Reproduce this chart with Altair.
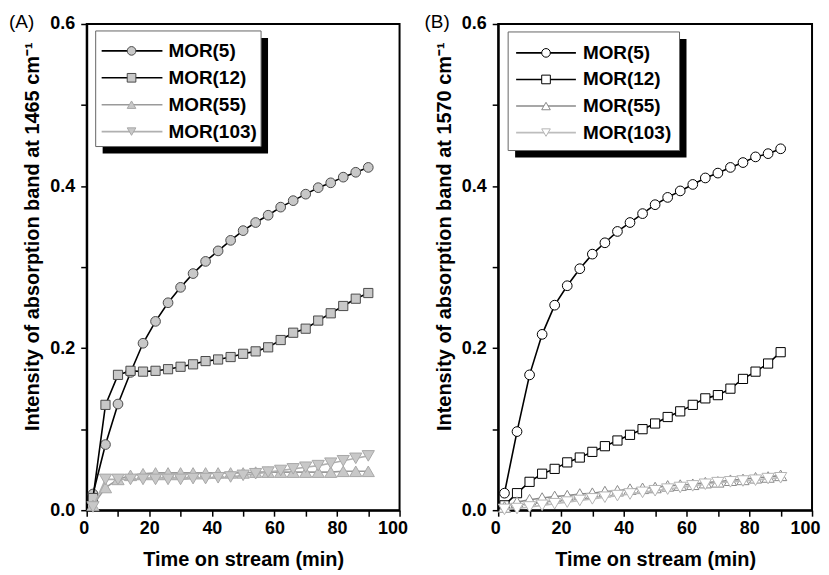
import altair as alt
import pandas as pd

time = [2, 6, 10, 14, 18, 22, 26, 30, 34, 38, 42, 46, 50, 54, 58, 62, 66, 70, 74, 78, 82, 86, 90]
series = ["MOR(5)", "MOR(12)", "MOR(55)", "MOR(103)"]
shapes = ["circle", "square", "triangle-up", "triangle-down"]

a_mor5 = [0.020, 0.081, 0.131, 0.170, 0.206, 0.233, 0.256, 0.275, 0.292, 0.307, 0.320, 0.333,
          0.345, 0.355, 0.364, 0.374, 0.382, 0.390, 0.398, 0.404, 0.411, 0.417, 0.423]
a_mor12 = [0.015, 0.130, 0.167, 0.172, 0.171, 0.172, 0.174, 0.177, 0.180, 0.184, 0.186, 0.189,
           0.193, 0.196, 0.201, 0.210, 0.219, 0.224, 0.234, 0.243, 0.252, 0.261, 0.268]
a_mor55 = [0.006, 0.028, 0.038, 0.043, 0.045, 0.046, 0.046, 0.046, 0.046, 0.046, 0.046, 0.046,
           0.046, 0.047, 0.047, 0.047, 0.047, 0.047, 0.047, 0.047, 0.048, 0.048, 0.048]
a_mor103 = [0.004, 0.038, 0.038, 0.038, 0.038, 0.038, 0.038, 0.038, 0.039, 0.039, 0.040, 0.041,
            0.043, 0.045, 0.047, 0.049, 0.051, 0.053, 0.055, 0.058, 0.061, 0.064, 0.067]

b_mor5 = [0.021, 0.097, 0.167, 0.217, 0.253, 0.277, 0.298, 0.316, 0.330, 0.344, 0.355, 0.366,
          0.377, 0.386, 0.394, 0.402, 0.410, 0.416, 0.423, 0.429, 0.436, 0.440, 0.446]
b_mor12 = [0.006, 0.021, 0.035, 0.045, 0.051, 0.059, 0.065, 0.072, 0.079, 0.086, 0.093, 0.100,
           0.107, 0.115, 0.122, 0.130, 0.138, 0.142, 0.150, 0.162, 0.171, 0.181, 0.195]
b_mor55 = [0.004, 0.010, 0.013, 0.015, 0.017, 0.018, 0.020, 0.021, 0.023, 0.024, 0.026, 0.027,
           0.028, 0.030, 0.031, 0.032, 0.034, 0.035, 0.037, 0.038, 0.040, 0.041, 0.043]
b_mor103 = [0.001, 0.002, 0.004, 0.006, 0.008, 0.010, 0.012, 0.014, 0.016, 0.018, 0.020, 0.022,
            0.024, 0.026, 0.028, 0.030, 0.032, 0.034, 0.035, 0.036, 0.037, 0.039, 0.040]

x_ticks = [0, 10, 20, 30, 40, 50, 60, 70, 80, 90, 100]
y_ticks = [0.0, 0.1, 0.2, 0.3, 0.4, 0.5, 0.6]

FONT = "Liberation Sans"


def panel(label, ytitle, vals, width, line_colors, fills, strokes, sizes, lg):
    rows = []
    for name, v in zip(series, vals):
        for t, y in zip(time, v):
            rows.append({"t": t, "v": y, "series": name})
    df = pd.DataFrame(rows)
    xs = alt.Scale(domain=[0, 100], nice=False)
    ys = alt.Scale(domain=[0, 0.6], nice=False, zero=False)
    x_axis = alt.Axis(values=x_ticks, format="d", orient="bottom",
                      labelFlush=True, labelFlushOffset=8,
                      labelExpr="datum.value % 20 == 0 ? datum.label : ''",
                      title="Time on stream (min)", titleY=50, titleBaseline="middle",
                      labelPadding=3)
    y_axis = alt.Axis(values=y_ticks, format=".1f", orient="left", labelFlush=False,
                      labelExpr="round(datum.value*10) % 2 == 0 ? datum.label : ''",
                      title=ytitle, titleX=-54, titleY=213, titleBaseline="middle",
                      titleAngle=-90, labelPadding=6)
    cscale = alt.Scale(domain=series, range=line_colors)
    shscale = alt.Scale(domain=series, range=shapes)
    fscale = alt.Scale(domain=series, range=fills)
    sscale = alt.Scale(domain=series, range=strokes)

    base = alt.Chart(df)
    layers = []
    for i, name in enumerate(series):
        sub = base.transform_filter(alt.datum.series == name)
        line = sub.mark_line(strokeWidth=1.6).encode(
            x=alt.X("t:Q", scale=xs, axis=x_axis),
            y=alt.Y("v:Q", scale=ys, axis=y_axis if i == 0 else None),
            color=alt.Color("series:N", scale=cscale, legend=None),
            order=alt.Order("t:Q"),
        )
        pts = sub.mark_point(filled=True, opacity=1, strokeWidth=1, size=sizes[i]).encode(
            x=alt.X("t:Q", scale=xs, axis=x_axis),
            y=alt.Y("v:Q", scale=ys, axis=None),
            shape=alt.Shape("series:N", scale=shscale, legend=None),
            fill=alt.Fill("series:N", scale=fscale, legend=None),
            stroke=alt.Stroke("series:N", scale=sscale, legend=None),
        )
        layers += [line, pts]

    one = alt.Chart(pd.DataFrame({"k": [0]}))
    bx0, bx1, by0, by1 = lg["box"]
    sh = lg["shadow"]
    shadow = one.mark_rect(color="black").encode(
        x=alt.value(bx0 + sh), x2=alt.value(bx1 + sh),
        y=alt.value(by0 + sh), y2=alt.value(by1 + sh))
    box = one.mark_rect(fill="white", stroke="#666666", strokeWidth=1).encode(
        x=alt.value(bx0), x2=alt.value(bx1), y=alt.value(by0), y2=alt.value(by1))

    lgdf = pd.DataFrame({"series": series})
    ly = alt.Y("series:N", axis=None,
               scale=alt.Scale(type="point", domain=series, range=lg["rows"], padding=0))
    lg_base = alt.Chart(lgdf)
    lg_rule = lg_base.mark_rule(strokeWidth=1.6).encode(
        x=alt.value(lg["line"][0]), x2=alt.value(lg["line"][1]), y=ly,
        color=alt.Color("series:N", scale=cscale, legend=None))
    lg_pts = lg_base.mark_point(filled=True, opacity=1, strokeWidth=1, size=75).encode(
        x=alt.value(lg["marker"]), y=ly,
        shape=alt.Shape("series:N", scale=shscale, legend=None),
        fill=alt.Fill("series:N", scale=fscale, legend=None),
        stroke=alt.Stroke("series:N", scale=sscale, legend=None))
    lg_txt = lg_base.mark_text(align="left", baseline="middle", fontSize=19,
                               fontWeight="bold", font=FONT, color="black").encode(
        x=alt.value(lg["text"]), y=ly, text="series:N")

    lab = one.mark_text(align="left", baseline="middle", fontSize=19, font=FONT,
                        color="black").encode(
        x=alt.value(lg["label_x"]), y=alt.value(-2), text=alt.value(label))

    layers += [shadow, box, lg_rule, lg_pts, lg_txt, lab]
    return alt.layer(*layers).resolve_scale(y="independent").properties(width=width, height=488)


lgA = {"box": (9, 175, 7, 123), "shadow": 7, "rows": [27, 108],
       "line": (15, 76), "marker": 45, "text": 82, "label_x": -78}
lgB = {"box": (10, 182, 8, 127), "shadow": 7, "rows": [29, 109],
       "line": (18, 78), "marker": 48, "text": 85, "label_x": -74}

chartA = panel("(A)", "Intensity of absorption band at 1465 cm\u207b\u00b9",
               [a_mor5, a_mor12, a_mor55, a_mor103], 314,
               ["#000000", "#000000", "#9a9a9a", "#b0b0b0"],
               ["#c8c8c8", "#c8c8c8", "#c8c8c8", "#c8c8c8"],
               ["#4a4a4a", "#4a4a4a", "#a8a8a8", "#a8a8a8"],
               [95, 85, 150, 150], lgA)
chartB = panel("(B)", "Intensity of absorption band at 1570 cm\u207b\u00b9",
               [b_mor5, b_mor12, b_mor55, b_mor103], 315,
               ["#000000", "#000000", "#8a8a8a", "#bdbdbd"],
               ["#ffffff", "#ffffff", "#ffffff", "#ffffff"],
               ["#000000", "#000000", "#8a8a8a", "#b4b4b4"],
               [95, 85, 150, 150], lgB)

chart = alt.hconcat(chartA, chartB, spacing=15).resolve_scale(
    color="independent", fill="independent", stroke="independent", shape="independent"
).properties(
    padding={"left": 0, "top": 3, "right": 0, "bottom": 5}
).configure_view(
    stroke="black", strokeWidth=2
).configure_axis(
    domainColor="black", domainWidth=2, tickColor="black", tickWidth=1.5, tickSize=6,
    labelFont=FONT, labelFontSize=18, labelFontWeight="bold", labelColor="black",
    titleFont=FONT, titleFontSize=20, titleFontWeight="bold", titleColor="black",
    grid=False
)

chart.save("out.html", embed_options={"renderer": "svg", "actions": False})
